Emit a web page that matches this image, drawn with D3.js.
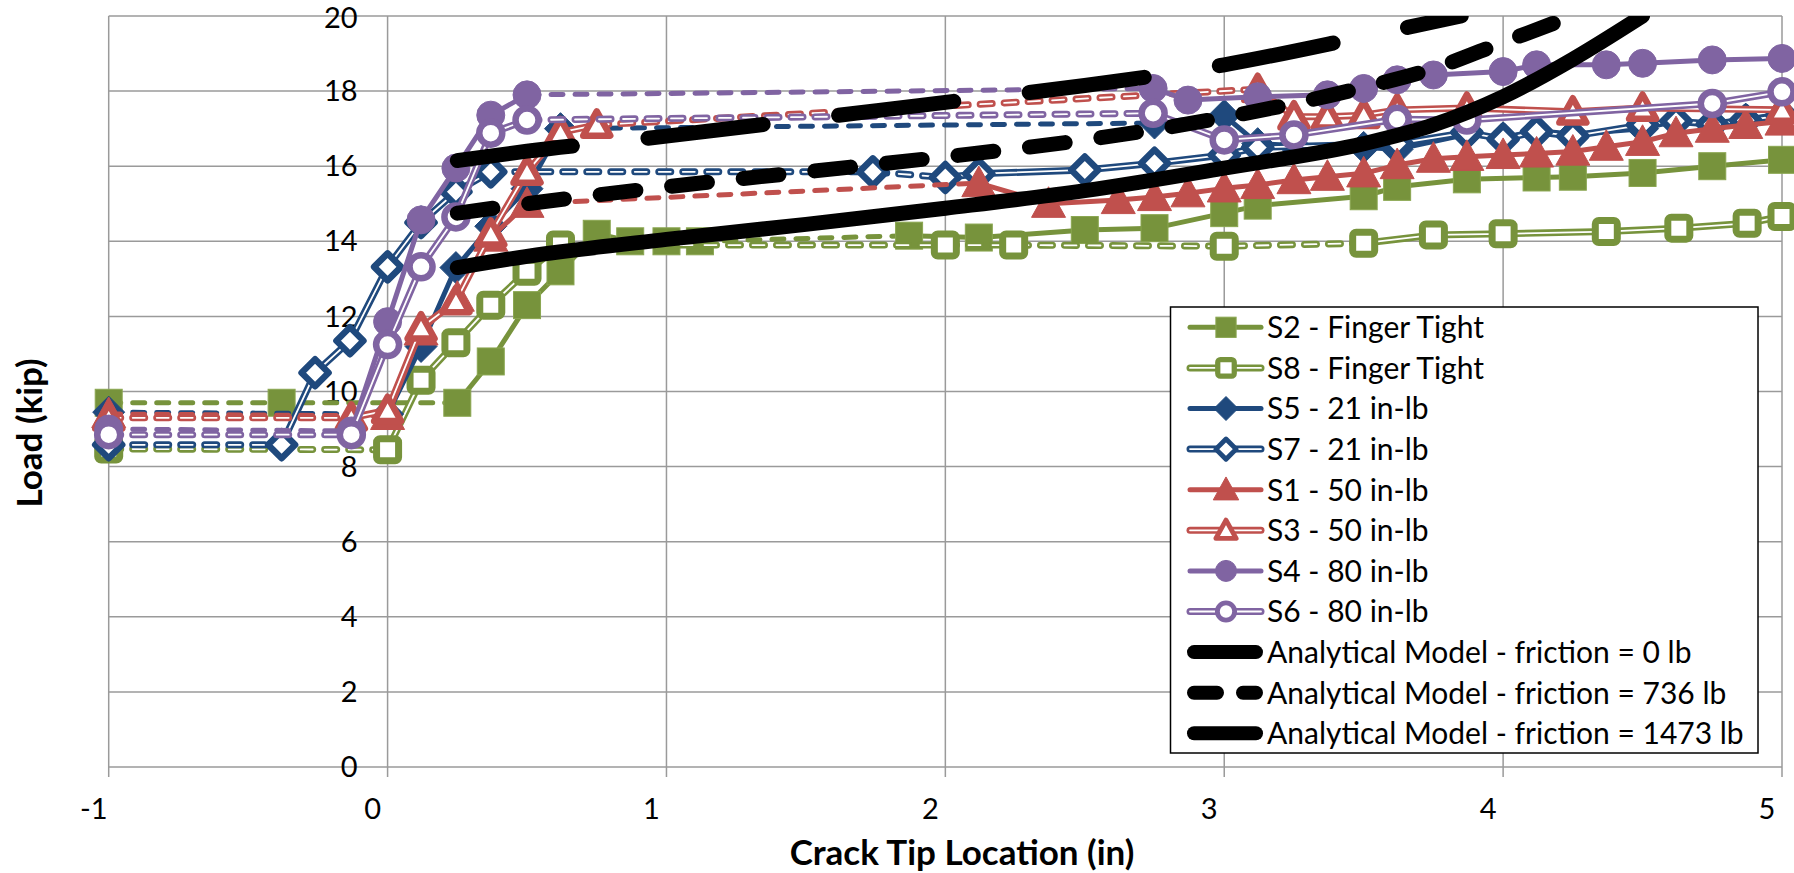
<!DOCTYPE html>
<html>
<head>
<meta charset="utf-8">
<script src="https://cdn.jsdelivr.net/npm/d3@7"></script>
<style>
  body { margin: 0; background: #fff; }
  svg { display: block; }
  text { font-family: Lato, "Open Sans", sans-serif; fill: #000; }
</style>
</head>
<body>
<svg id="chart"></svg>
<script>
const xTicks = [-1, 0, 1, 2, 3, 4, 5];
const yTicks = [0, 2, 4, 6, 8, 10, 12, 14, 16, 18, 20];

// [crack tip (in), load (kip), 1 = dashed segment from previous point]
const s2 = [[-1, 9.7], [-0.38, 9.7, 1], [0.25, 9.7, 1], [0.37, 10.8], [0.5, 12.3], [0.62, 13.2], [0.75, 14.2],
  [0.87, 14.0], [1.0, 14.0], [1.12, 14.0], [1.87, 14.15, 1], [2.12, 14.1], [2.5, 14.3], [2.75, 14.35], [3.0, 14.75],
  [3.12, 14.95], [3.5, 15.2], [3.62, 15.45], [3.87, 15.65], [4.12, 15.7], [4.25, 15.72], [4.5, 15.82], [4.75, 16.0], [5.0, 16.17]];
const s8 = [[-1, 8.47], [0.0, 8.45, 1], [0.12, 10.3], [0.245, 11.3], [0.37, 12.3], [0.5, 13.2], [0.62, 13.9],
  [2.0, 13.9, 1], [2.245, 13.9, 1], [3.0, 13.87, 1], [3.5, 13.95, 1], [3.75, 14.17], [4.0, 14.2], [4.37, 14.26],
  [4.63, 14.35], [4.875, 14.48], [5.0, 14.66]];
const s5 = [[-1, 9.45], [0.0, 9.4, 1], [0.12, 11.2], [0.245, 13.3], [0.37, 14.4], [0.5, 15.4], [0.62, 17.0],
  [2.75, 17.15, 1], [3.0, 17.35], [3.12, 16.6], [3.25, 16.55], [3.5, 16.5], [3.62, 16.45], [3.87, 16.85], [4.0, 16.75],
  [4.12, 16.95], [4.25, 16.85], [4.5, 17.0], [4.62, 17.2], [4.75, 17.15], [4.87, 17.25], [5.0, 17.4]];
const s7 = [[-1, 8.58], [-0.38, 8.58, 1], [-0.26, 10.5], [-0.135, 11.35], [0.0, 13.32], [0.12, 14.5], [0.245, 15.32],
  [0.37, 15.85], [1.74, 15.85, 1], [2.0, 15.7, 1], [2.12, 15.8], [2.5, 15.9], [2.75, 16.08], [3.0, 16.3], [3.12, 16.5],
  [3.62, 16.6], [3.87, 16.9], [4.0, 16.72], [4.12, 16.92], [4.25, 16.8], [4.5, 17.1], [4.62, 17.2], [4.75, 17.12],
  [4.87, 17.22], [5.0, 17.35]];
const s1 = [[-1, 9.4], [0.0, 9.35, 1], [0.12, 11.6], [0.25, 12.5], [0.37, 14.1], [0.5, 15.0], [2.12, 15.55, 1],
  [2.37, 15.0], [2.62, 15.1], [2.75, 15.18], [2.87, 15.28], [3.0, 15.41], [3.12, 15.5], [3.25, 15.63], [3.37, 15.72],
  [3.5, 15.81], [3.62, 16.03], [3.75, 16.2], [3.87, 16.25], [4.0, 16.3], [4.12, 16.34], [4.25, 16.39], [4.37, 16.52],
  [4.5, 16.65], [4.62, 16.88], [4.75, 17.0], [4.87, 17.1], [5.0, 17.19]];
const s3 = [[-1, 9.3], [-0.13, 9.3, 1], [0.0, 9.5], [0.12, 11.7], [0.245, 12.4], [0.37, 14.2], [0.5, 15.85],
  [0.62, 16.9], [0.75, 17.1], [3.12, 18.05, 1], [3.25, 17.32], [3.37, 17.32], [3.5, 17.36], [3.62, 17.5],
  [3.87, 17.55], [4.25, 17.45], [4.5, 17.55], [5.0, 17.5]];
const s4 = [[-1, 9.0], [-0.13, 8.95, 1], [0.0, 11.86], [0.12, 14.57], [0.245, 15.95], [0.37, 17.36], [0.5, 17.9],
  [2.745, 18.07, 1], [2.87, 17.76], [3.12, 17.85], [3.37, 17.9], [3.5, 18.07], [3.62, 18.3], [3.75, 18.43],
  [4.0, 18.52], [4.12, 18.7], [4.37, 18.7], [4.5, 18.74], [4.75, 18.83], [5.0, 18.87]];
const s6 = [[-1, 8.85], [-0.13, 8.85, 1], [0.0, 11.25], [0.12, 13.32], [0.245, 14.65], [0.37, 16.88], [0.5, 17.23],
  [2.745, 17.41, 1], [3.0, 16.7], [3.25, 16.83], [3.62, 17.25], [3.87, 17.23], [4.75, 17.67], [5.0, 17.98]];

// analytical model curves
const model0 = [[0.25, 13.3], [0.5, 13.6], [1, 14.05], [1.5, 14.45], [2, 14.88], [2.5, 15.35], [3, 15.95],
  [3.5, 16.6], [3.75, 17.1], [4, 17.85], [4.25, 18.85], [4.5, 20.0]];
const model736 = [[0.25, 14.75], [0.5, 15.0], [1, 15.45], [1.5, 15.85], [2, 16.25], [2.5, 16.7], [3, 17.3],
  [3.5, 18.1], [3.75, 18.6], [4, 19.3], [4.25, 20.0]];
const model1473 = [[0.25, 16.15], [0.5, 16.4], [1, 16.8], [1.5, 17.25], [2, 17.7], [2.5, 18.15], [3, 18.7],
  [3.5, 19.45], [3.85, 20.0]];

const green = "#77933C", blue = "#1F497D", red = "#C0504D", purple = "#8064A2";

const specimens = [
  { name: "S2 - Finger Tight", data: s2, color: green, marker: "square", open: false },
  { name: "S8 - Finger Tight", data: s8, color: green, marker: "square", open: true },
  { name: "S5 - 21 in-lb", data: s5, color: blue, marker: "diamond", open: false },
  { name: "S7 - 21 in-lb", data: s7, color: blue, marker: "diamond", open: true },
  { name: "S1 - 50 in-lb", data: s1, color: red, marker: "triangle", open: false },
  { name: "S3 - 50 in-lb", data: s3, color: red, marker: "triangle", open: true },
  { name: "S4 - 80 in-lb", data: s4, color: purple, marker: "circle", open: false },
  { name: "S6 - 80 in-lb", data: s6, color: purple, marker: "circle", open: true }
];
const models = [
  { name: "Analytical Model - friction = 0 lb", data: model0, dash: null, legendDash: null },
  { name: "Analytical Model - friction = 736 lb", data: model736, dash: "36,36", legendDash: "23,26" },
  { name: "Analytical Model - friction = 1473 lb", data: model1473, dash: "116,76", legendDash: null }
];

const width = 1794, height = 873;
const svg = d3.select("#chart").attr("width", width).attr("height", height);

const x = d3.scaleLinear().domain([-1, 5]).range([108.7, 1782]);
const y = d3.scaleLinear().domain([0, 20]).range([767, 16]);

svg.append("defs").append("clipPath").attr("id", "plotClip")
  .append("rect")
  .attr("x", x(-1)).attr("y", y(20))
  .attr("width", x(5) - x(-1)).attr("height", y(0) - y(20));

// gridlines
const grid = svg.append("g").attr("stroke", "#9a9a9a").attr("stroke-width", 1.5);
grid.selectAll(".hg").data(yTicks).enter().append("line")
  .attr("x1", x(-1)).attr("x2", x(5))
  .attr("y1", d => y(d)).attr("y2", d => y(d));
grid.selectAll(".vg").data(xTicks).enter().append("line")
  .attr("x1", d => x(d)).attr("x2", d => x(d))
  .attr("y1", y(20)).attr("y2", y(0) + 10);

// tick labels
svg.append("g").selectAll("text").data(xTicks).enter().append("text")
  .attr("x", d => x(d) - 15).attr("y", 819)
  .attr("text-anchor", "middle").style("font-size", "29px")
  .text(d => d);
svg.append("g").selectAll("text").data(yTicks).enter().append("text")
  .attr("x", x(0) - 30).attr("y", d => y(d)).attr("dy", d => d === 20 ? "0.42em" : "0.35em")
  .attr("text-anchor", "end").style("font-size", "29px")
  .text(d => d);

// axis titles
svg.append("text")
  .attr("transform", "translate(42,433) rotate(-90)")
  .attr("text-anchor", "middle").style("font-size", "35px").style("font-weight", "bold")
  .text("Load (kip)");
svg.append("text")
  .attr("x", 962).attr("y", 865)
  .attr("text-anchor", "middle").style("font-size", "35px").style("font-weight", "bold")
  .text("Crack Tip Location (in)");

const line = d3.line().x(d => x(d[0])).y(d => y(d[1]));

// split a series into runs of solid / dashed segments
function runs(data) {
  const out = [];
  for (let i = 1; i < data.length; i++) {
    const dashed = !!data[i][2];
    const last = out[out.length - 1];
    if (last && last.dashed === dashed) last.pts.push(data[i]);
    else out.push({ dashed: dashed, pts: [data[i - 1], data[i]] });
  }
  return out;
}

function markerShape(g, type, open, color, scale) {
  const s = scale || 1;
  if (type === "square") {
    if (open) {
      g.append("rect").attr("x", -11 * s).attr("y", -11 * s).attr("width", 22 * s).attr("height", 22 * s)
        .attr("rx", 3.5 * s).attr("fill", "#fff").attr("stroke", color).attr("stroke-width", 7 * s);
    } else {
      g.append("rect").attr("x", -13.5 * s).attr("y", -13.5 * s).attr("width", 27 * s).attr("height", 27 * s)
        .attr("fill", color).attr("stroke", "#8aa650").attr("stroke-width", 1);
    }
  } else if (type === "diamond") {
    const h = open ? 13.5 : 16;
    g.append("path").attr("d", `M0,${-h * s}L${h * s},0L0,${h * s}L${-h * s},0Z`)
      .attr("fill", open ? "#fff" : color).attr("stroke", color)
      .attr("stroke-width", open ? 6.5 * s : 1).attr("stroke-linejoin", "round");
  } else if (type === "triangle") {
    const w = open ? 13.5 : 17;
    g.append("path").attr("d", `M0,${-w * s}L${w * s},${w * 0.8 * s}L${-w * s},${w * 0.8 * s}Z`)
      .attr("fill", open ? "#fff" : color).attr("stroke", color)
      .attr("stroke-width", open ? 6.5 * s : 1).attr("stroke-linejoin", "round");
  } else {
    g.append("circle").attr("r", (open ? 11.5 : 14) * s)
      .attr("fill", open ? "#fff" : color).attr("stroke", color)
      .attr("stroke-width", open ? 6.5 * s : 1);
  }
}

function strokeRun(g, d, color, open, dashed) {
  const p = g.append("path").attr("d", d).attr("fill", "none")
    .attr("stroke", color).attr("stroke-width", open ? 7 : 5)
    .attr("stroke-linejoin", "round").attr("stroke-linecap", "round");
  if (dashed) p.attr("stroke-dasharray", "12,12");
  if (open) {
    const w = g.append("path").attr("d", d).attr("fill", "none")
      .attr("stroke", "#fff").attr("stroke-width", 1.8)
      .attr("stroke-linejoin", "round").attr("stroke-linecap", "round");
    if (dashed) w.attr("stroke-dasharray", "12,12");
  }
}

// specimens: line runs, then markers, series by series
specimens.forEach(s => {
  const g = svg.append("g");
  runs(s.data).forEach(r => strokeRun(g, line(r.pts), s.color, s.open, r.dashed));
  s.data.forEach(p => {
    const m = g.append("g").attr("transform", `translate(${x(p[0])},${y(p[1])})`);
    markerShape(m, s.marker, s.open, s.color);
  });
});

// analytical models
const modelLine = d3.line().x(d => x(d[0])).y(d => y(d[1])).curve(d3.curveMonotoneX);
const mg = svg.append("g").attr("clip-path", "url(#plotClip)");
models.forEach(m => {
  const p = mg.append("path").attr("d", modelLine(m.data)).attr("fill", "none")
    .attr("stroke", "#000").attr("stroke-width", 15).attr("stroke-linecap", "round");
  if (m.dash) p.attr("stroke-dasharray", m.dash);
});

// legend
const legend = svg.append("g");
legend.append("rect").attr("x", 1170.5).attr("y", 307).attr("width", 587.5).attr("height", 446)
  .attr("fill", "#fff").attr("stroke", "#000").attr("stroke-width", 1.5);
const rowY = i => 327.3 + i * 40.6;
specimens.forEach((s, i) => {
  const cy = rowY(i);
  strokeRun(legend, `M1190,${cy}H1261`, s.color, s.open, false);
  const m = legend.append("g").attr("transform", `translate(1226,${cy})`);
  markerShape(m, s.marker, s.open, s.color, 0.75);
  legend.append("text").attr("x", 1267).attr("y", cy).attr("dy", "0.36em")
    .style("font-size", "30px").text(s.name);
});
models.forEach((m, j) => {
  const cy = rowY(specimens.length + j);
  const p = legend.append("path").attr("d", `M1194,${cy}H1256`).attr("fill", "none")
    .attr("stroke", "#000").attr("stroke-width", 14).attr("stroke-linecap", "round");
  if (m.legendDash) p.attr("stroke-dasharray", m.legendDash);
  legend.append("text").attr("x", 1267).attr("y", cy).attr("dy", "0.36em")
    .style("font-size", "30px").text(m.name);
});
</script>
</body>
</html>
